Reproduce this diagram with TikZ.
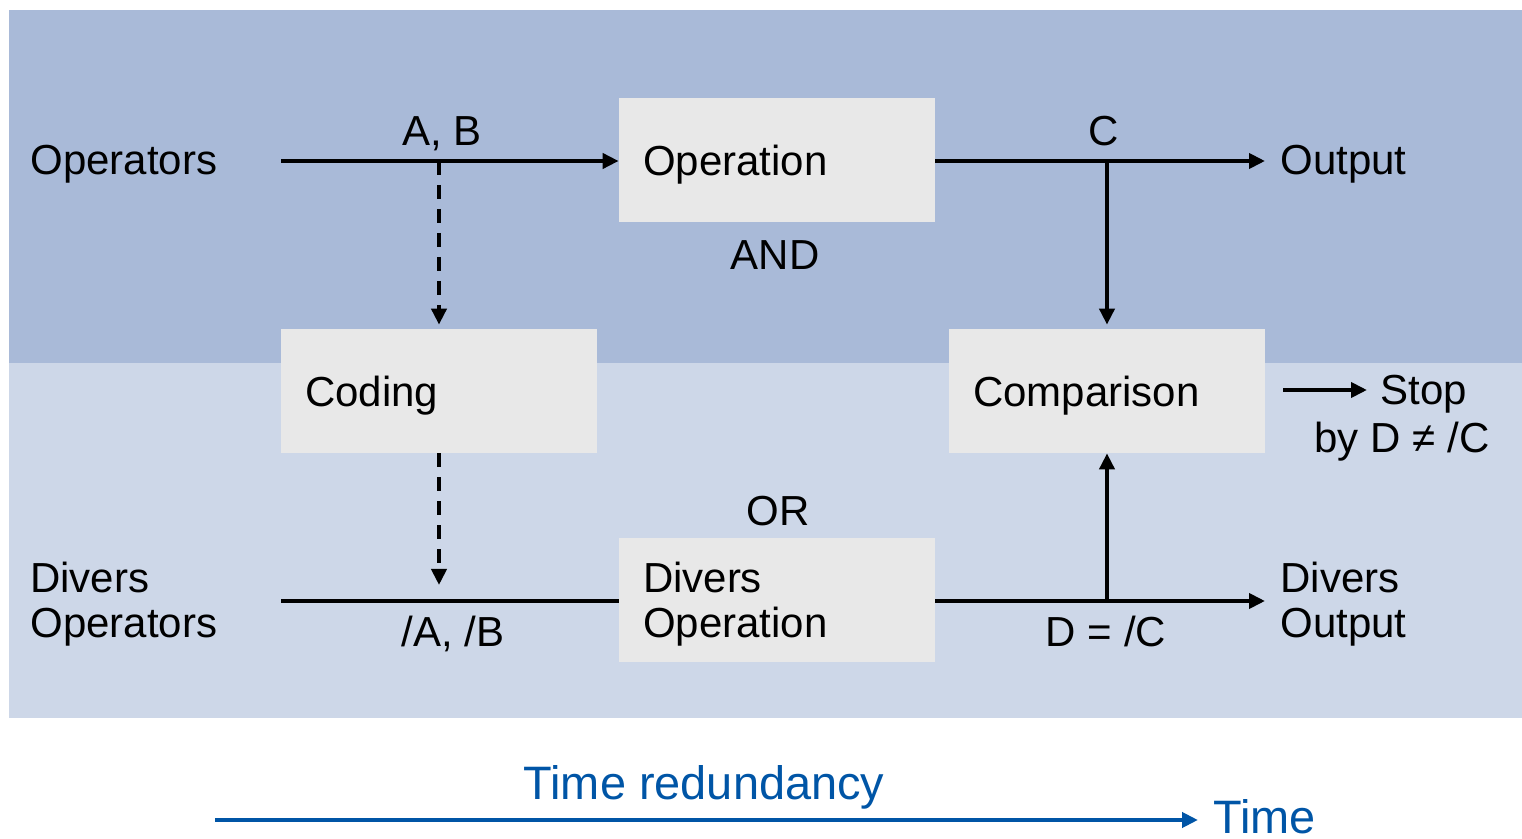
\documentclass[tikz,border=0pt]{standalone}
\usepackage{fontspec}
\setmainfont{Liberation Sans}
\usetikzlibrary{arrows.meta}

\definecolor{bandtop}{HTML}{A9BAD8}
\definecolor{bandbot}{HTML}{CDD7E8}
\definecolor{boxgray}{HTML}{E8E8E8}
\definecolor{timeblue}{HTML}{0055A6}

\begin{document}
\begin{tikzpicture}[
  font=\fontsize{23.9}{25.6}\selectfont,
  >={Triangle[length=0.32cm,width=0.3cm]},
  flow/.style={line width=2.2pt},
  dashflow/.style={line width=2.2pt, dash pattern=on 0.28cm off 0.2cm},
  block/.style={fill=boxgray, text width=5.36cm, align=left, text depth=0pt,
    inner xsep=0.48cm, inner ysep=0pt, minimum height=2.48cm},
  lbl/.style={inner sep=0pt, anchor=base},
  side/.style={inner sep=0pt, anchor=west, align=left, text depth=0pt}
]

% Rahmen und Hintergrund
\useasboundingbox (0,0) rectangle (30.44,16.76);
\fill[bandtop] (0.18,9.5) rectangle (30.44,16.56);
\fill[bandbot] (0.18,2.4) rectangle (30.44,9.5);

% Bloecke
\node[block] (op)  at (15.54,13.56) {Operation};
\node[block] (cod) at (8.78,8.94)   {Coding};
\node[block] (cmp) at (22.14,8.94)  {Comparison};
\node[block, text depth=25.6pt] (dop) at (15.54,4.76) {Divers\\Operation};

% Ein- und Ausgaenge
\coordinate (in)   at (5.62,13.54);
\coordinate (din)  at (5.62,4.74);
\coordinate (out)  at (25.3,13.54);
\coordinate (dout) at (25.3,4.74);

\node[side] (opsin)  at (0.6,13.56) {Operators};
\node[side] (dopsin) at (0.6,4.76)  {Divers\\Operators};
\node[side] (opout)  at (25.6,13.56) {Output};
\node[side] (dopout) at (25.6,4.76)  {Divers\\Output};

% Pfeile
\draw[flow,->] (in) -- (in -| op.west);
\draw[flow] (din) -- (din -| dop.west);
\draw[flow,->] (op.east |- out) -- (out);
\draw[flow,->] (dop.east |- dout) -- (dout);
\draw[flow,->,shorten >=0.08cm] (cmp.north |- out) -- (cmp.north);
\draw[flow,->] (cmp.south |- dout) -- (cmp.south);
\draw[dashflow,->,shorten >=0.08cm] (cod.north |- in) -- (cod.north);
\draw[dashflow,->,shorten >=0.32cm] (cod.south) -- (cod.south |- din);

% Abbruch
\coordinate (stopfrom) at (25.66,8.96);
\node[lbl, anchor=base west, inner xsep=0.26cm] (stop) at (27.34,8.66) {Stop};
\node[lbl] (stopwhy) at (28.04,7.7) {by D ≠ /C};
\draw[flow,->] (stopfrom) -- (stopfrom -| stop.west);

% Beschriftungen
\node[lbl] (ab)   at (8.84,13.84)  {A, B};
\node[lbl] (c)    at (22.08,13.84) {C};
\node[lbl] (and)  at (15.5,11.36)  {AND};
\node[lbl] (or)   at (15.56,6.24)  {OR};
\node[lbl] (nab)  at (9.06,3.84)   {/A, /B};
\node[lbl] (d)    at (22.12,3.84)  {D = /C};

% Zeitachse
\node[lbl, text=timeblue, font=\fontsize{26.7}{30}\selectfont] (red) at (14.08,0.78) {Time redundancy};
\coordinate (tstart) at (4.3,0.36);
\node[lbl, anchor=base west, text=timeblue, font=\fontsize{26.7}{30}\selectfont] (time) at (24.26,0.1) {Time};
\draw[timeblue, line width=2.6pt, ->, shorten >=0.3cm] (tstart) -- (tstart -| time.west);

\end{tikzpicture}
\end{document}
